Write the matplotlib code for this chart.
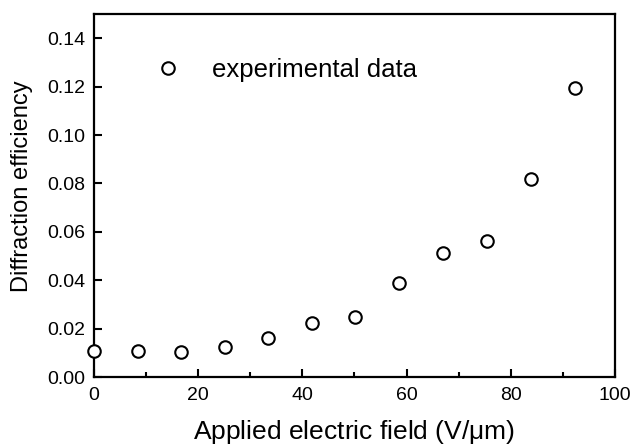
import numpy as np
import matplotlib.pyplot as plt
from matplotlib.ticker import MultipleLocator

plt.rcParams['font.family'] = ['Liberation Sans', 'DejaVu Sans']

# Experimental data
field = [0, 8.4, 16.8, 25.1, 33.5, 41.9, 50.2, 58.6, 67.0, 75.5, 83.8, 92.4]
efficiency = [0.0108, 0.0109, 0.0102, 0.0124, 0.0163, 0.0223, 0.0249,
              0.0389, 0.0513, 0.0560, 0.0818, 0.1195]
yticks = [0.00, 0.02, 0.04, 0.06, 0.08, 0.10, 0.12, 0.14]

fig = plt.figure(figsize=(6.32, 4.46), dpi=100)
ax = fig.add_axes([0.1487, 0.1547, 0.8243, 0.8139])

ax.plot(field, efficiency, linestyle='none', marker='o', markersize=9,
        markerfacecolor='white', markeredgecolor='black', markeredgewidth=1.5,
        label='experimental data', clip_on=False, zorder=3)

ax.set_xlim(0, 100)
ax.set_ylim(0, 0.15)
ax.xaxis.set_major_locator(MultipleLocator(20))
ax.xaxis.set_minor_locator(MultipleLocator(10))
ax.set_yticks(yticks)
ax.set_yticklabels(['%.2f' % v for v in yticks])

ax.tick_params(which='both', direction='in', width=1.5, labelsize=14,
               top=False, right=False)
ax.tick_params(which='major', length=6)
ax.tick_params(axis='y', pad=6)
ax.tick_params(axis='x', pad=7)
ax.tick_params(which='minor', length=3.5)
for s in ax.spines.values():
    s.set_linewidth(1.6)

ax.set_xlabel(r'Applied electric field (V/$\mathregular{\mu}$m)', fontsize=19, labelpad=10)
ax.set_ylabel('Diffraction efficiency', fontsize=17)
ax.yaxis.set_label_coords(-0.117, 0.526)

ax.legend(loc='center left', bbox_to_anchor=(0.130, 0.846), frameon=False,
          fontsize=18.5, handlelength=0.5, handletextpad=1.44,
          borderaxespad=0, borderpad=0, numpoints=1)

plt.savefig("out.png", dpi=100)
